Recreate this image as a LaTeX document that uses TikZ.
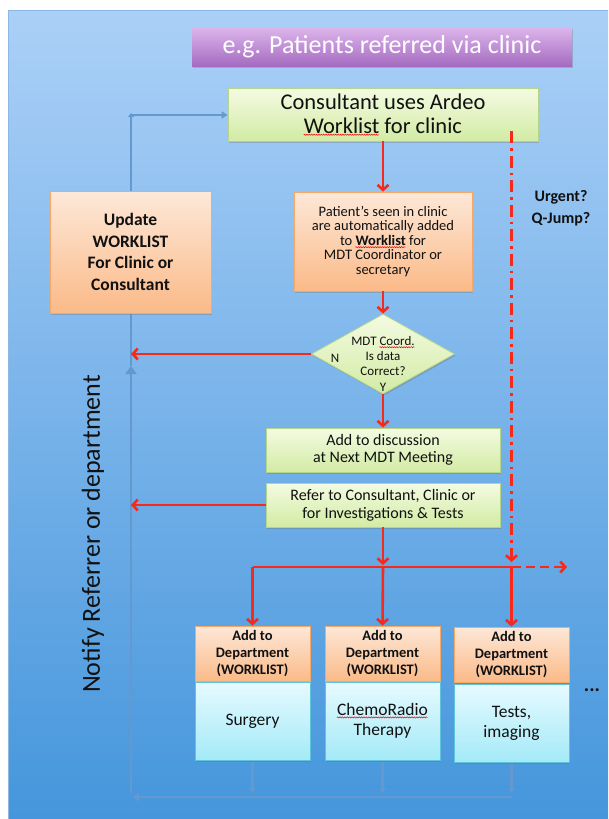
\documentclass[tikz,border=0pt]{standalone}
\usepackage{fontspec}
\setmainfont{Carlito}
\usetikzlibrary{arrows.meta,shapes.geometric,shadows,decorations.pathmorphing}
\newsavebox\wavebox
\newcommand\redwave[1]{\sbox\wavebox{#1}\usebox\wavebox\llap{\raisebox{-2.6pt}{\tikz\draw[red, line width=0.5pt, decorate, decoration={snake,amplitude=0.6pt,segment length=2.4pt}] (0pt,0pt) -- (\wd\wavebox,0pt);}}}
\definecolor{bgtop}{HTML}{ABD0F7}
\definecolor{bgbot}{HTML}{4596DC}
\definecolor{bgedge}{HTML}{8DB8E4}
\definecolor{grtop}{HTML}{F4FBE2}
\definecolor{grbot}{HTML}{D2EBA4}
\definecolor{grline}{HTML}{B5D68A}
\definecolor{ortop}{HTML}{FDE8D8}
\definecolor{orbot}{HTML}{FBBA88}
\definecolor{orline}{HTML}{F5A868}
\definecolor{cytop}{HTML}{E6FAFF}
\definecolor{cybot}{HTML}{A4EAF8}
\definecolor{cyline}{HTML}{5FC3DC}
\definecolor{putop}{HTML}{DDB6EC}
\definecolor{pubot}{HTML}{A56BC0}
\definecolor{arrred}{HTML}{F52A1A}
\definecolor{conblue}{HTML}{6499CF}
\definecolor{txt}{HTML}{111111}
\pgfdeclarelayer{bg}
\pgfdeclarelayer{back}
\pgfsetlayers{bg,back,main}
\begin{document}
\begin{tikzpicture}[x=1pt,y=-1pt,
 box/.style={line width=0.8pt, align=center, inner sep=1pt, text=txt,
   drop shadow={shadow xshift=1.2pt, shadow yshift=-1.6pt, opacity=0.3, fill=black!60}},
 greenbox/.style={box, draw=grline, top color=grtop, bottom color=grbot},
 orangebox/.style={box, draw=orline, top color=ortop, bottom color=orbot},
 cyanbox/.style={box, draw=cyline, top color=cytop, bottom color=cybot},
 titlebox/.style={box, draw=none, top color=putop, bottom color=pubot, text=white},
 redline/.style={draw=arrred, line width=2.6pt},
 redarr/.style={redline, -{Straight Barb[length=5pt,width=11pt]}},
 blueln/.style={draw=conblue, line width=2.2pt},
 bluearr/.style={blueln, -{Triangle[length=6pt,width=7pt]}},
 lbl/.style={inner sep=0pt, align=center, text=txt}]
\useasboundingbox (0,0) rectangle (608,819);
\begin{pgfonlayer}{bg}
\fill[white] (0,0) rectangle (608,819);
\fill[top color=bgtop,bottom color=bgbot] (8,10) rectangle (608,819);
\draw[bgedge, line width=0.8pt] (608,10) -- (8,10) -- (8,819);
\end{pgfonlayer}

% nodes
\node[titlebox, minimum width=380pt, minimum height=39pt, font=\fontsize{26}{28}\selectfont] (title) at (382,46.5) {e.g. Patients referred via clinic};
\node[greenbox, minimum width=310pt, minimum height=53pt, font=\fontsize{22.5}{24}\selectfont] (cons) at (383,114.5) {Consultant uses Ardeo\\\redwave{Worklist} for clinic};
\node[orangebox, minimum width=161pt, minimum height=122pt, font=\bfseries\fontsize{17.5}{21.5}\selectfont] (upd) at (130.5,252) {Update\\WORKLIST\\For Clinic or\\Consultant};
\node[orangebox, minimum width=178pt, minimum height=99pt, font=\fontsize{14.5}{14.5}\selectfont] (pat) at (383,241.5) {Patient’s seen in clinic\\are automatically added\\to \redwave{\textbf{Worklist}} for\\MDT Coordinator or\\secretary};
\node[diamond, draw=grline, line width=0.8pt, top color=grtop, bottom color=grbot, minimum width=143pt, minimum height=80pt, inner sep=0pt, drop shadow={shadow xshift=1.2pt, shadow yshift=-1.6pt, opacity=0.3, fill=black!60}] (dia) at (383,354) {};
\node[lbl, font=\fontsize{13}{15}\selectfont] (diat) at (383,356) {MDT \redwave{Coord.}\\Is data\\Correct?};
\node[lbl, font=\fontsize{13}{15}\selectfont] (nlab) at (335,358) {N};
\node[lbl, font=\fontsize{13}{15}\selectfont] (ylab) at (383,387) {Y};
\node[greenbox, minimum width=234pt, minimum height=44pt, font=\fontsize{16}{17}\selectfont] (disc) at (383,450) {Add to discussion\\at Next MDT Meeting};
\node[greenbox, minimum width=234pt, minimum height=44pt, font=\fontsize{16}{18}\selectfont] (ref) at (383,505) {Refer to Consultant, Clinic or\\for Investigations \& Tests};

\foreach \n/\x/\dy in {1/252.5/0,2/382.5/0,3/511.5/1}{
  \node[orangebox, minimum width=115pt, minimum height=55pt, font=\bfseries\fontsize{14.5}{17}\selectfont] (d\n) at (\x,653.5+\dy) {Add to\\Department\\(WORKLIST)};
}
\node[cyanbox, minimum width=115pt, minimum height=78pt, font=\fontsize{17.5}{20}\selectfont] (s1) at (252.5,721) {Surgery};
\node[cyanbox, minimum width=115pt, minimum height=78pt, font=\fontsize{17.5}{20}\selectfont] (s2) at (382.5,721) {\redwave{ChemoRadio}\\Therapy};
\node[cyanbox, minimum width=115pt, minimum height=78pt, font=\fontsize{17.5}{20}\selectfont] (s3) at (511.5,723) {Tests,\\imaging};

\node[lbl, rotate=90, font=\fontsize{26}{30}\selectfont] (notify) at (93,534) {Notify Referrer or department};
\node[lbl, font=\bfseries\fontsize{16}{22}\selectfont] (urg) at (561,208) {Urgent?\\Q-Jump?};
\node[lbl, font=\bfseries\fontsize{20}{20}\selectfont] (dots) at (592,690) {...};

% coordinates
\coordinate (lt) at (131,113);
\coordinate (lc) at (131,115);
\coordinate (lm) at (131,366);
\coordinate (lb) at (131,793);
\coordinate (bb) at (0,793);
\coordinate (bh) at (0,797);
\coordinate (bend) at (133,797);
\coordinate (hl) at (252.5,567);
\coordinate (hr) at (511.5,567);
\coordinate (he) at (567,567);
\coordinate (ddtop) at (511.5,131);
\coordinate (ddend) at (511.5,562);

% blue return connectors
\begin{pgfonlayer}{back}
\foreach \n in {1,2,3}{
  \draw[blueln, -{Triangle[length=5pt,width=6pt]}] (s\n.south) -- (s\n.south |- bb);
}
\draw[blueln, -{Triangle[length=6pt,width=9pt]}] (s3.south |- bh) -- (bend);
\draw[blueln, -{Triangle[length=8pt,width=11pt]}] (lb) -- (lm);
\draw[blueln, -{Triangle[length=4pt,width=6pt]}] (lm) -- (lt);
\draw[bluearr] (lc) -- (cons.west |- lc);
\end{pgfonlayer}

% red connectors
\draw[redarr] (cons.south) -- (pat.north);
\draw[redarr] (pat.south) -- (dia.north);
\draw[redarr] (dia.south) -- (disc.north);
\draw[redarr] (dia.west) -- (dia.west -| lt);
\draw[redarr] (ref.west) -- (ref.west -| lt);
\draw[redarr] (ref.south) -- ([yshift=2pt]ref.south |- hl);
\draw[redline] (hl) -- (hr);
\draw[redarr, dash pattern=on 9pt off 5pt] (hr) -- (he);
\draw[redarr] (hl) -- (d1.north);
\draw[redarr] (ref.south |- hl) -- (d2.north);
\draw[redarr] (hr) -- (d3.north);
\draw[redarr, dash pattern=on 12pt off 5pt on 2.5pt off 5pt] (ddtop) -- (ddend);
\end{tikzpicture}
\end{document}
